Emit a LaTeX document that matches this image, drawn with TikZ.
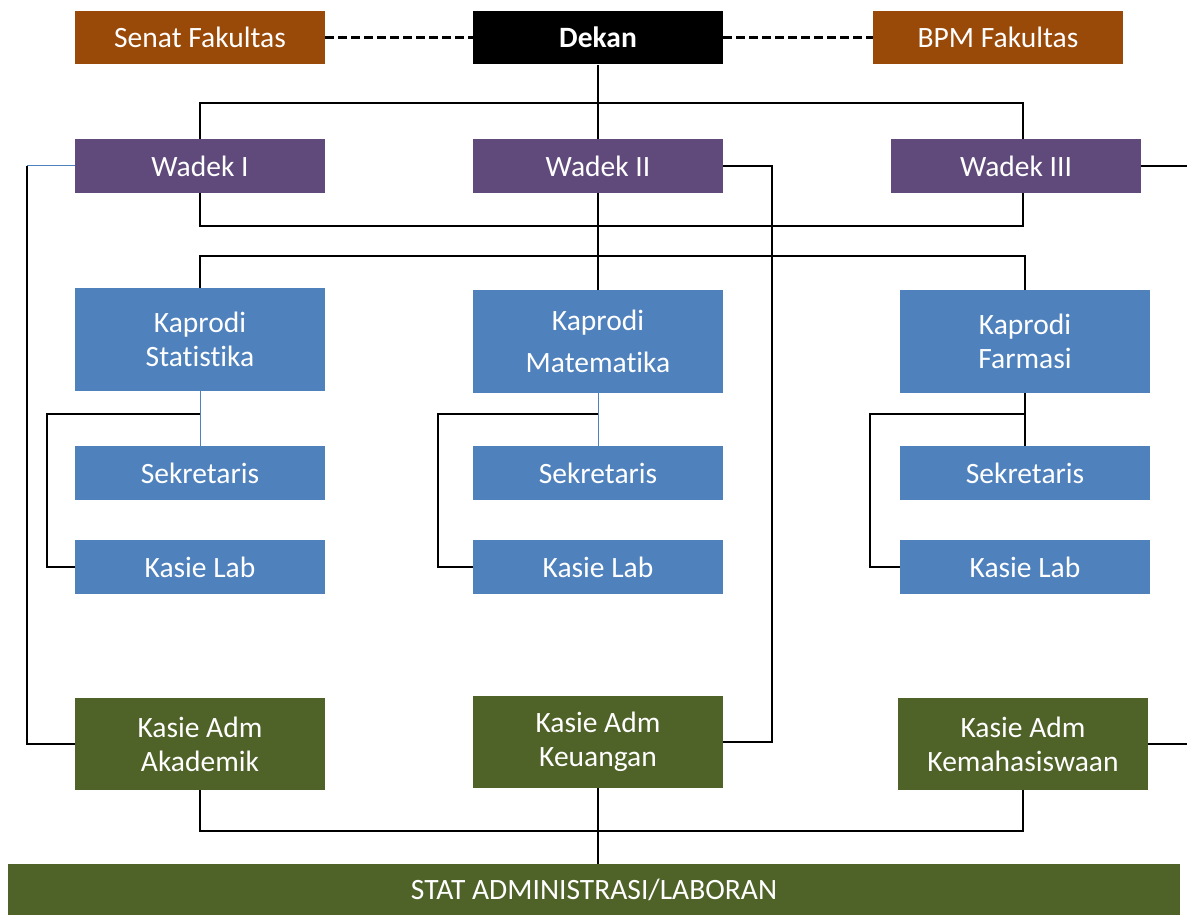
\documentclass[tikz,border=0pt]{standalone}
\usepackage{fontspec}
\setmainfont{Carlito}[Ligatures=NoCommon]
\usepackage{tikz}
\usetikzlibrary{positioning}

\definecolor{senatbrown}{RGB}{153,73,8}
\definecolor{wadekpurple}{RGB}{96,74,123}
\definecolor{prodiblue}{RGB}{79,129,189}
\definecolor{admgreen}{RGB}{79,98,40}

\begin{document}
\begin{tikzpicture}[x=0.02cm, y=-0.02cm,
                font=\fontsize{16.8}{19.4}\selectfont,
                unit box/.style={minimum width=5cm, minimum height=1.08cm, inner sep=0pt, text=white, align=center},
                link/.style={line width=0.045cm, black},
                thin link/.style={line width=0.02cm, prodiblue},
                side link/.style={line width=0.06cm, dash pattern=on 0.18cm off 0.08cm}]

                \useasboundingbox (0,0) rectangle (1187,915);

                % Pimpinan
                \node[unit box, fill=senatbrown] (senat) at (200,37.5) {Senat Fakultas};
                \node[unit box, fill=black, font=\fontsize{16.8}{19.4}\selectfont\bfseries] (dekan) at (598,37.5) {Dekan};
                \node[unit box, fill=senatbrown] (bpm) at (998,37.5) {BPM Fakultas};

                % Wakil dekan
                \node[unit box, fill=wadekpurple] (wadek1) at (200,166) {Wadek I};
                \node[unit box, fill=wadekpurple] (wadek2) at (598,166) {Wadek II};
                \node[unit box, fill=wadekpurple] (wadek3) at (1016,166) {Wadek III};

                % Program studi
                \node[unit box, fill=prodiblue, minimum height=2.06cm] (kaprodi1) at (200,339.5) {Kaprodi\\Statistika};
                \node[unit box, fill=prodiblue, minimum height=2.06cm] (kaprodi2) at (598,341.5) {Kaprodi\\[0.16cm]Matematika};
                \node[unit box, fill=prodiblue, minimum height=2.06cm] (kaprodi3) at (1025,341.5) {Kaprodi\\Farmasi};

                \node[unit box, fill=prodiblue] (sek1) at (200,473) {Sekretaris};
                \node[unit box, fill=prodiblue] (sek2) at (598,473) {Sekretaris};
                \node[unit box, fill=prodiblue] (sek3) at (1025,473) {Sekretaris};

                \node[unit box, fill=prodiblue] (lab1) at (200,567) {Kasie Lab};
                \node[unit box, fill=prodiblue] (lab2) at (598,567) {Kasie Lab};
                \node[unit box, fill=prodiblue] (lab3) at (1025,567) {Kasie Lab};

                % Administrasi
                \node[unit box, fill=admgreen, minimum height=1.84cm] (adm1) at (200,744) {Kasie Adm\\Akademik};
                \node[unit box, fill=admgreen, minimum height=1.84cm] (adm2) at (598,742) {Kasie Adm\\Keuangan};
                \node[unit box, fill=admgreen, minimum height=1.84cm] (adm3) at (1023,744) {Kasie Adm\\Kemahasiswaan};

                \node[unit box, fill=admgreen, minimum width=23.44cm, minimum height=1.02cm] (stat) at (594,889.5) {STAT ADMINISTRASI/LABORAN};

                % Bus lines
                \coordinate (busA) at (598,103);
                \coordinate (busB) at (598,226);
                \coordinate (busC) at (598,256);
                \coordinate (busD) at (598,831);
                \coordinate (w1left) at (27,166);
                \coordinate (w2right) at (772,166);
                \coordinate (w3edge) at (1187,166);
                \coordinate (a3edge) at (1187,744);
                \coordinate (k1b) at (200,414);
                \coordinate (k2b) at (598,414);
                \coordinate (k3b) at (1025,414);
                \coordinate (b1) at (47,414);
                \coordinate (b2) at (438,414);
                \coordinate (b3) at (870,414);

                % Garis koordinasi
                \draw[side link] (senat.east) -- (dekan.west);
                \draw[side link] (dekan.east) -- (bpm.west);

                % Garis komando
                \draw[link] (dekan.south) -- (wadek2.north);
                \draw[link] (wadek1.north) |- (busA) -| ([xshift=0.14cm]wadek3.north);
                \draw[link] (wadek1.south) |- (busB) -| ([xshift=0.14cm]wadek3.south);
                \draw[link] (wadek2.south) -- (kaprodi2.north);
                \draw[link] (kaprodi1.north) |- (busC) -| (kaprodi3.north);

                \draw[thin link] (wadek1.west) -- (w1left);
                \draw[link] (w1left) |- (adm1.west);
                \draw[link] (wadek2.east) -- (w2right) |- (adm2.east);
                \draw[link] (wadek3.east) -- (w3edge);
                \draw[link] (adm3.east) -- (a3edge);

                \draw[thin link] (kaprodi1.south) -- (sek1.north);
                \draw[thin link] (kaprodi2.south) -- (sek2.north);
                \draw[link] (kaprodi3.south) -- (sek3.north);
                \draw[link] (k1b) -- (b1) |- (lab1.west);
                \draw[link] (k2b) -- (b2) |- (lab2.west);
                \draw[link] (k3b) -- (b3) |- (lab3.west);

                \draw[link] (adm1.south) |- (busD) -| (adm3.south);
                \draw[link] (adm2.south) -- (adm2.south |- stat.north);
            \end{tikzpicture}
\end{document}
